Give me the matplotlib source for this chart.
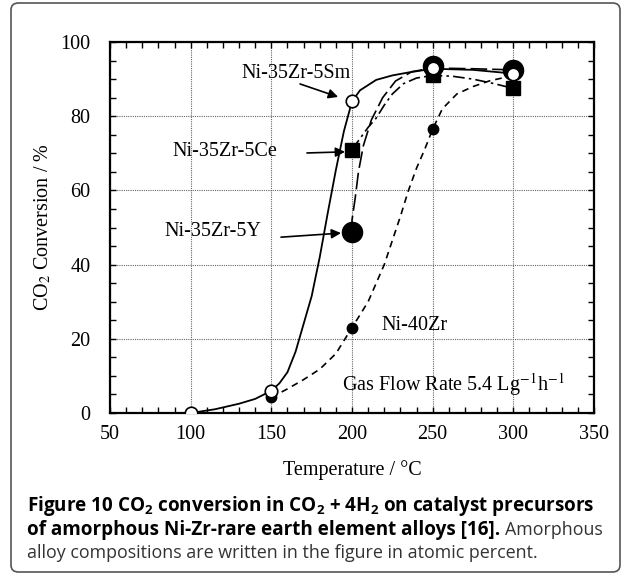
import matplotlib
matplotlib.use("Agg")
import matplotlib.pyplot as plt
from matplotlib.patches import FancyBboxPatch

plt.rcParams['mathtext.fontset'] = 'custom'
plt.rcParams['mathtext.rm'] = 'Open Sans'
plt.rcParams['mathtext.bf'] = 'Open Sans:bold'

# measured points (temperature in C, conversion in %)
temps = [100, 150, 200, 250, 300]
sm_pts = [0, 6, 84, 93, 91.5]
zr_t = [150, 200, 250, 300]
zr_pts = [4.2, 23, 76.5, 91]
y_t = [200, 250, 300]
y_pts = [48.7, 93.5, 92.5]
ce_t = [200, 250, 300]
ce_pts = [71, 91, 87.5]

# hand drawn fit curves
sm_curve_t = [100, 115, 130, 140, 150, 155, 160, 165, 170, 175, 180, 185, 190, 195, 200,
              205, 215, 225, 235, 250, 275, 300]
sm_curve_v = [0, 1, 2.5, 3.8, 6, 8, 11, 16.5, 24, 31.5, 42, 54, 65.5, 76, 84,
              87, 89.8, 91, 91.8, 92.8, 92.5, 91.5]
zr_curve_t = [150, 160, 170, 180, 190, 200, 210, 220, 230, 235, 240, 245, 250, 256, 265, 275, 285, 300]
zr_curve_v = [4.2, 6.5, 9, 11.8, 16, 23, 30, 40, 53, 60, 66, 71, 76.5, 82, 86, 88, 89.5, 91]
y_curve_t = [200, 200, 202, 204, 207, 212, 219, 227, 237, 250, 275, 300]
y_curve_v = [48.7, 52, 58, 65, 72, 79, 85, 89.5, 92, 93, 92.8, 92.5]
ce_curve_t = [200, 205, 210, 215, 220, 225, 232, 240, 250, 262, 275, 288, 300]
ce_curve_v = [71, 74, 77, 79.5, 83, 86, 88.8, 90.3, 91, 90.8, 90, 88.8, 87.5]

serif = 'Liberation Serif'

fig = plt.figure(figsize=(6.25, 5.76), dpi=100)
ax = fig.add_axes([0.176, 0.283, 0.7744, 0.644])

# curves
ax.plot(zr_curve_t, zr_curve_v, color='black', lw=1.2, dashes=(4, 3))
ax.plot(ce_curve_t, ce_curve_v, color='black', lw=1.2, dashes=(7, 2.5, 1.5, 2.5))
ax.plot(y_curve_t, y_curve_v, color='black', lw=1.2, dashes=(10, 3))
ax.plot(sm_curve_t, sm_curve_v, color='black', lw=1.3)

# markers
ax.plot(zr_t, zr_pts, 'o', color='black', ms=7.5, zorder=4)
ax.plot(ce_t, ce_pts, 's', color='black', ms=10, zorder=5)
ax.plot(y_t, y_pts, 'o', color='black', ms=14.5, zorder=6)
ax.plot(temps, sm_pts, 'o', mfc='white', mec='black', mew=1.2, ms=9, zorder=7)

ax.set_xlim(50, 350)
ax.set_ylim(0, 100)
ax.set_xticks(range(50, 351, 50))
ax.set_yticks(range(0, 101, 20))
ax.set_xticks(range(50, 351, 10), minor=True)
ax.set_yticks(range(0, 101, 5), minor=True)
ax.tick_params(which='both', direction='in', top=True, right=True, length=4, width=1)
ax.tick_params(axis='x', which='major', pad=9, labelsize=14.5)
ax.tick_params(axis='y', which='major', pad=14, labelsize=14.5)
for lab in ax.get_xticklabels() + ax.get_yticklabels():
    lab.set_fontfamily(serif)
for s in ax.spines.values():
    s.set_linewidth(1.6)
ax.grid(True, which='major', color='#666666', lw=0.8, linestyle=(0, (1, 1)))

ax.set_xlabel('Temperature / \u00b0C', fontsize=14.5, family=serif, labelpad=11)
ax.set_ylabel(r'CO$_2$ Conversion / %', fontsize=14.5, family=serif, labelpad=5,
              math_fontfamily='stix')

# series labels with arrows
lbl = dict(fontsize=14.5, family=serif, ha='center', va='center')
ax.text(165.3, 91.6, 'Ni-35Zr-5Sm', **lbl)
ax.text(121.3, 70.4, 'Ni-35Zr-5Ce', **lbl)
ax.text(113.5, 48.8, 'Ni-35Zr-5Y', **lbl)
ax.text(239, 23.7, 'Ni-40Zr', **lbl)
ax.text(193.8, 7.8, r'Gas Flow Rate 5.4 Lg$^{\mathrm{-1}}$h$^{\mathrm{-1}}$', fontsize=14.5,
        family=serif, ha='left', va='center', math_fontfamily='stix')

arr = dict(arrowstyle='-|>', color='black', lw=1.2, mutation_scale=14, shrinkA=0, shrinkB=0)
ax.annotate('', xy=(191.4, 85.2), xytext=(167.8, 88.7), arrowprops=arr)
ax.annotate('', xy=(195.7, 70.4), xytext=(172.1, 70.1), arrowprops=arr)
ax.annotate('', xy=(193.2, 48.5), xytext=(156, 47.4), arrowprops=arr)

# frame around figure + caption
fig.patches.append(FancyBboxPatch((11 / 625, 4 / 576), 609 / 625, 569 / 576,
                                  boxstyle='round,pad=0,rounding_size=0.012',
                                  transform=fig.transFigure, fill=False,
                                  edgecolor='#555555', lw=1.2))

cap = dict(family='Open Sans', va='center', ha='left', math_fontfamily='custom')
fig.text(27 / 625, 1 - 506 / 576,
         r'Figure 10 CO$_\mathbf{2}$ conversion in CO$_\mathbf{2}$ + 4H$_\mathbf{2}$ on catalyst precursors',
         fontweight='bold', fontsize=13.6, **cap)
t2 = fig.text(27 / 625, 1 - 530 / 576, 'of amorphous Ni-Zr-rare earth element alloys [16].',
              fontweight='bold', fontsize=13.6, **cap)
fig.canvas.draw()
bb = t2.get_window_extent()
fig.text(bb.x1 / 625 + 5 / 625, 1 - 530 / 576, 'Amorphous', color='#333333', fontsize=12.9, **cap)
fig.text(27 / 625, 1 - 553 / 576, 'alloy compositions are written in the figure in atomic percent.',
         color='#333333', fontsize=12.9, **cap)

fig.savefig('out.png', dpi=100)
